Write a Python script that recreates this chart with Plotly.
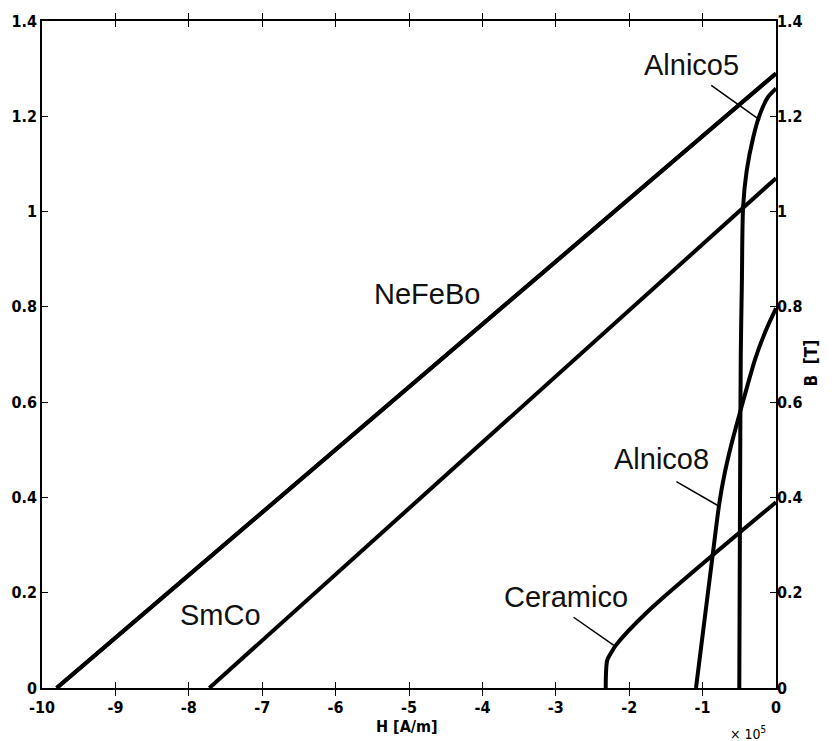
import plotly.graph_objects as go

# H in units of 1e5 A/m, B in T
nefebo_h = [-9.8, 0.0]
nefebo_b = [0.0, 1.29]

smco_h = [-7.72, 0.0]
smco_b = [0.0, 1.07]

alnico5_h = [-0.50, -0.49, -0.48, -0.465, -0.448, -0.40, -0.31, -0.22, -0.11, -0.015, 0.0]
alnico5_b = [0.0, 0.40, 0.70, 0.85, 1.01, 1.085, 1.156, 1.204, 1.240, 1.256, 1.258]

alnico8_h = [-1.09, -0.87, -0.77, -0.70, -0.61, -0.50, -0.285, -0.14, 0.0]
alnico8_b = [0.0, 0.27, 0.39, 0.45, 0.51, 0.573, 0.69, 0.75, 0.797]

ceramico_h = [-2.32, -2.30, -2.25, -2.18, -1.75, 0.0]
ceramico_b = [0.0, 0.058, 0.073, 0.09, 0.16, 0.39]

# labels: text, text position, leader line (start, end) or None
label_text = ["Alnico5", "Alnico8", "Ceramico", "NeFeBo", "SmCo"]
label_x = [-1.147, -1.56, -2.86, -4.76, -7.57]
label_y = [1.308, 0.481, 0.190, 0.827, 0.154]
leader_x0 = [-0.882, -1.357, -2.758, None, None]
leader_y0 = [1.265, 0.433, 0.1485, None, None]
leader_x1 = [-0.217, -0.769, -2.208, None, None]
leader_y1 = [1.192, 0.381, 0.0896, None, None]

x_ticks = [-10, -9, -8, -7, -6, -5, -4, -3, -2, -1, 0]
x_ticktext = ["-10", "-9", "-8", "-7", "-6", "-5", "-4", "-3", "-2", "-1", "0"]
y_ticks = [0, 0.2, 0.4, 0.6, 0.8, 1.0, 1.2, 1.4]
y_ticktext = ["0", "0.2", "0.4", "0.6", "0.8", "1", "1.2", "1.4"]

narrow = "Liberation Sans Narrow, DejaVu Sans Condensed, Arial Narrow"
tick_font = dict(family=narrow, size=16, color="black", weight="bold")

fig = go.Figure()
for hx, by in [(nefebo_h, nefebo_b), (smco_h, smco_b), (alnico5_h, alnico5_b),
               (alnico8_h, alnico8_b), (ceramico_h, ceramico_b)]:
    fig.add_trace(go.Scatter(x=hx, y=by, mode="lines",
                             line=dict(color="black", width=4, shape="spline", smoothing=0.8),
                             showlegend=False, hoverinfo="skip"))
# trace bound to the right axis (same scale)
fig.add_trace(go.Scatter(x=nefebo_h, y=nefebo_b, yaxis="y2", mode="lines",
                         line=dict(color="black", width=4),
                         showlegend=False, hoverinfo="skip"))

for i, t in enumerate(label_text):
    fig.add_annotation(x=label_x[i], y=label_y[i], text=t, showarrow=False,
                       font=dict(family="Liberation Sans, Arial", size=29, color="#111"))
    if leader_x0[i] is not None:
        fig.add_shape(type="line", x0=leader_x0[i], y0=leader_y0[i], x1=leader_x1[i], y1=leader_y1[i],
                      line=dict(color="black", width=1.5))

fig.add_annotation(xref="paper", yref="paper", x=0.497, y=-0.058, yanchor="middle", text="H [A/m]",
                   showarrow=False, font=dict(family=narrow, size=16, color="black", weight="bold"))
fig.add_annotation(xref="paper", yref="paper", x=0.989, y=-0.067, yanchor="middle", text="× 10<sup>5</sup>",
                   showarrow=False, font=dict(family=narrow, size=14, color="black"))
fig.add_annotation(xref="paper", yref="paper", x=1.064, y=0.488, text="B  [T]", textangle=-90,
                   showarrow=False, font=dict(family=narrow, size=17, color="black", weight="bold"))

fig.update_layout(
    width=839, height=741,
    margin=dict(l=39, r=63, t=16, b=53),
    plot_bgcolor="white", paper_bgcolor="white",
    xaxis=dict(range=[-10, 0], tickvals=x_ticks, ticktext=x_ticktext, ticks="inside", ticklen=6,
               tickcolor="black", showline=True, linecolor="black", linewidth=1.5, mirror="allticks",
               showgrid=False, zeroline=False, tickfont=tick_font, ticklabelstandoff=4),
    yaxis=dict(range=[0, 1.4], tickvals=y_ticks, ticktext=y_ticktext, ticks="inside", ticklen=6,
               tickcolor="black", showline=True, linecolor="black", linewidth=1.5, mirror="allticks",
               showgrid=False, zeroline=False, tickfont=tick_font),
    yaxis2=dict(range=[0, 1.4], tickvals=y_ticks, ticktext=y_ticktext, overlaying="y", side="right",
                ticks="", showline=False, showgrid=False, zeroline=False, tickfont=tick_font),
)

fig.write_html("out.html")
